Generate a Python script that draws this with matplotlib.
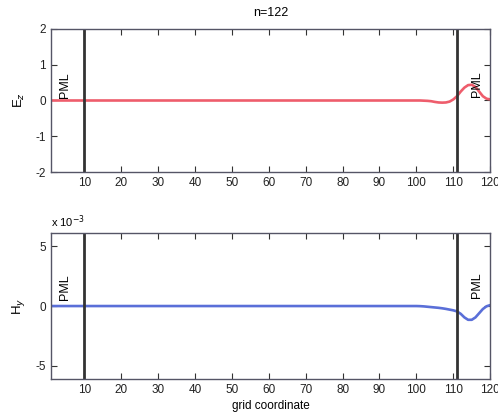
import matplotlib.pyplot as plt
import numpy as np

# grid positions and field samples
grid_x = [1, 10, 20, 30, 40, 50, 60, 70, 80, 90, 100, 101, 102, 103, 104, 105,
          106, 107, 108, 109, 110, 111, 112, 113, 114, 115, 116, 117, 118, 119, 120]
ez = [0.0, 0.0, 0.0, 0.0, 0.0, 0.0, 0.0, 0.0, 0.0, 0.0, 0.0, 0.0, -0.005, -0.01,
      -0.02, -0.04, -0.055, -0.06, -0.055, -0.03, 0.03, 0.12, 0.25, 0.36, 0.43,
      0.44, 0.38, 0.25, 0.12, 0.05, 0.03]
hy = [0.0, 0.0, 0.0, 0.0, 0.0, 0.0, 0.0, 0.0, 0.0, 0.0, 0.0, -0.01, -0.03, -0.06,
      -0.09, -0.12, -0.15, -0.19, -0.24, -0.3, -0.36, -0.45, -0.65, -0.95, -1.15,
      -1.15, -0.95, -0.6, -0.25, -0.02, 0.08]  # units of 1e-3
pml_edges = [10, 111]
n_cells = 122


def style_axes(ax, ylim, yticks):
    ax.set_xlim(1, 120)
    ax.set_ylim(*ylim)
    ax.set_xticks(np.arange(10, 121, 10))
    ax.set_yticks(yticks)
    ax.tick_params(direction='in', top=True, right=True, length=4,
                   labelsize=8.5, colors='#333333', labelcolor='#222222')
    for s in ax.spines.values():
        s.set_color('#555566')
        s.set_linewidth(1.0)
    for e in pml_edges:
        ax.axvline(e, color='#333333', linewidth=2)


def main():
    plt.rcParams['font.family'] = ['Liberation Sans', 'DejaVu Sans']
    plt.rcParams['axes.unicode_minus'] = False
    fig = plt.figure(figsize=(4.98, 4.17), dpi=100)
    ax1 = fig.add_axes([0.1024, 0.5875, 0.882, 0.343])
    ax2 = fig.add_axes([0.1024, 0.0911, 0.882, 0.350])

    ax1.plot(grid_x, ez, color='#ee5d6c', linewidth=1.9)
    style_axes(ax1, (-2, 2), [-2, -1, 0, 1, 2])
    ax1.set_ylabel('E$_z$', fontsize=9.5, labelpad=6)
    ax1.set_title('n=%d' % n_cells, fontsize=9, pad=9)
    ax1.text(4.8, 0.44, 'PML', rotation=90, ha='center', va='center', fontsize=9)
    ax1.text(116.4, 0.46, 'PML', rotation=90, ha='center', va='center', fontsize=9)

    ax2.plot(grid_x, hy, color='#5a6fd8', linewidth=1.9)
    style_axes(ax2, (-6.1, 6.1), [-5, 0, 5])
    ax2.set_ylabel('H$_y$', fontsize=9.5, labelpad=6)
    ax2.set_xlabel('grid coordinate', fontsize=8.5, labelpad=3)
    ax2.text(0.0, 1.02, 'x 10$^{-3}$', transform=ax2.transAxes, fontsize=8,
             ha='left', va='bottom')
    ax2.text(4.8, 1.6, 'PML', rotation=90, ha='center', va='center', fontsize=9)
    ax2.text(116.5, 1.75, 'PML', rotation=90, ha='center', va='center', fontsize=9)

    fig.savefig('out.png', dpi=100)


if __name__ == '__main__':
    main()
